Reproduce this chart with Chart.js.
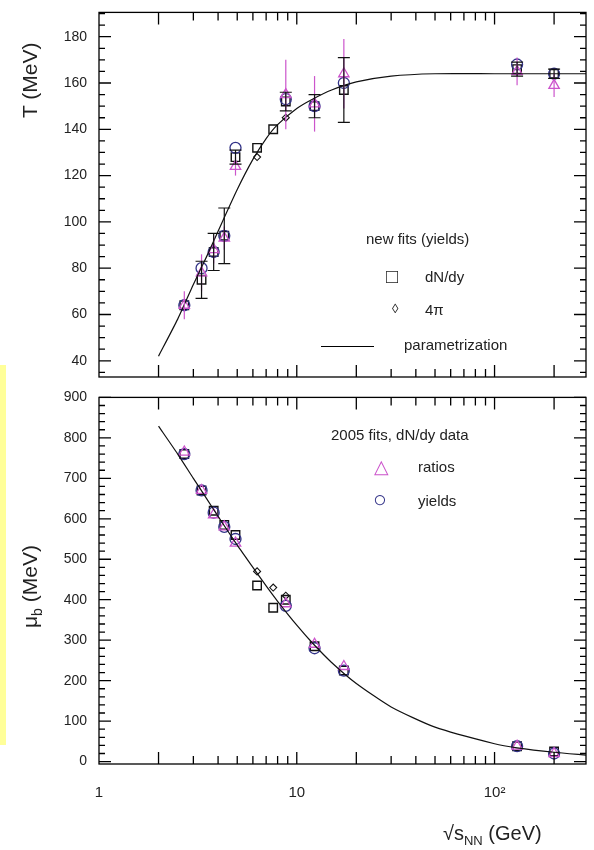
<!DOCTYPE html>
<html><head><meta charset="utf-8">
<script src="https://cdn.jsdelivr.net/npm/chart.js@4"></script>
<style>
body{margin:0;background:#fff;width:594px;height:850px;position:relative;overflow:hidden;font-family:"Liberation Sans",Arial,sans-serif;color:#222}
canvas{position:absolute;left:0}
.t{position:absolute;white-space:nowrap;font-size:15px}
.yl{position:absolute;font-size:21px;transform:rotate(-90deg);transform-origin:left top;white-space:nowrap}
</style></head><body>
<div style="position:absolute;left:0;top:365px;width:6px;height:380px;background:#ffff99"></div>
<canvas id="top" width="594" height="395" style="top:0"></canvas>
<canvas id="bot" width="594" height="465" style="top:385px"></canvas>
<div class="yl" style="left:18px;top:118px">T (MeV)</div>
<div class="yl" style="left:18px;top:628px">μ<sub style="font-size:14px">b</sub> (MeV)</div>
<div class="t" style="left:443px;top:822px;font-size:20px">√s<sub style="font-size:13px">NN</sub> (GeV)</div>
<div class="t" style="left:366px;top:230px">new fits (yields)</div>
<div class="t" style="left:386px;top:265px;font-size:20px">□</div><div class="t" style="left:425px;top:268px">dN/dy</div>
<div class="t" style="left:392px;top:301px;font-size:13px">◊</div><div class="t" style="left:425px;top:301px">4π</div>
<div style="position:absolute;left:321px;top:346px;width:53px;border-top:1.5px solid #000"></div><div class="t" style="left:404px;top:336px">parametrization</div>
<div class="t" style="left:331px;top:426px">2005 fits, dN/dy data</div>
<div class="t" style="left:374px;top:455px;font-size:19px;color:#cc55cc">△</div><div class="t" style="left:418px;top:458px">ratios</div>
<div class="t" style="left:373px;top:486px;font-size:23px;color:#333388">○</div><div class="t" style="left:418px;top:492px">yields</div>
<script>
// energies (GeV)
const sqrtS = [2.7, 3.3, 3.8, 4.3, 4.9, 6.3, 7.6, 8.8, 12.3, 17.3, 130, 200];
// temperature panel
const T_dndy  = [64, 75, 87, 94, 128, 132, 140, 152, 150, 157, 166, 164];
const T_dndy_err = [0, 8, 8, 12, 3, 0, 0, 4, 5, 14, 3, 2];
const T_4pi_x = [6.3, 8.8];
const T_4pi   = [128, 145];
const T_ratios_x = [2.7, 3.3, 3.8, 4.3, 4.9, 8.8, 12.3, 17.3, 130, 200];
const T_ratios = [64, 78, 88, 93, 124, 155, 151, 164, 165, 159];
const T_ratios_err = [6, 8, 6, 5, 4, 15, 12, 15, 6, 5];
const T_yields = [64, 80, 87, 94, 132, 153, 150, 160, 168, 164];
const curveX = [2, 2.5, 3, 3.5, 4, 5, 6, 7, 8, 10, 12, 15, 20, 30, 50, 100, 130, 200, 290];
const T_curve = [42, 58, 73, 85, 96, 114, 127, 136, 142, 149, 153, 157, 160.5, 163, 164, 164, 164, 164, 164];
// mu_b panel
const mu_dndy = [760, 670, 620, 585, 560, 435, 380, 400, 285, 225, 38, 25];
const mu_4pi_x = [6.3, 7.6, 8.8];
const mu_4pi = [470, 430, 410];
const mu_ratios = [765, 670, 610, 580, 540, 390, 290, 235, 38, 20];
const mu_yields = [760, 670, 615, 580, 550, 385, 280, 225, 38, 20];
const mu_curve = [829, 760, 700, 650, 606, 535, 480, 434, 396, 337, 293, 245, 193, 135, 85, 44, 34, 23, 16];

const pts = (xs, ys) => ys.map((y, i) => ({x: xs[i], y}));
const black = '#111', mag = '#cc55cc', navy = '#333388';

const errBars = {
  id: 'errBars',
  afterDatasetsDraw(c) {
    const ctx = c.ctx, xs = c.scales.x, ys = c.scales.y;
    c.data.datasets.forEach(d => {
      if (!d.err) return;
      ctx.save(); ctx.strokeStyle = d.borderColor; ctx.lineWidth = 1.2;
      d.data.forEach((p, i) => {
        const e = d.err[i]; if (!e) return;
        const px = xs.getPixelForValue(p.x);
        ctx.beginPath();
        ctx.moveTo(px, ys.getPixelForValue(p.y - e)); ctx.lineTo(px, ys.getPixelForValue(p.y + e));
        if (d.cap) {
          [p.y - e, p.y + e].forEach(v => { const py = ys.getPixelForValue(v); ctx.moveTo(px - 6, py); ctx.lineTo(px + 6, py); });
        }
        ctx.stroke();
      });
      ctx.restore();
    });
  }
};

const frameTicks = {
  id: 'frameTicks',
  afterDraw(c) {
    const ctx = c.ctx, a = c.chartArea, xs = c.scales.x, ys = c.scales.y, o = c.options.plugins.frameTicks;
    ctx.save(); ctx.strokeStyle = '#000'; ctx.lineWidth = 1.3;
    ctx.strokeRect(a.left, a.top, a.right - a.left, a.bottom - a.top);
    ctx.beginPath();
    for (let v = o.ymin; v <= o.ymax + 1e-6; v += o.minor) {
      const py = ys.getPixelForValue(v); if (py < a.top || py > a.bottom) continue;
      const L = Math.abs(v % o.major) < 1e-6 ? 12 : 6;
      ctx.moveTo(a.left, py); ctx.lineTo(a.left + L, py);
      ctx.moveTo(a.right, py); ctx.lineTo(a.right - L, py);
    }
    for (let dec = 1; dec <= 100; dec *= 10) {
      for (let k = 1; k <= 9; k++) {
        const v = dec * k; if (v > xs.max) break;
        const px = xs.getPixelForValue(v); if (px <= a.left + 1) continue;
        const L = (k === 1 || k === 2 || dec === 100) ? 12 : 8;
        ctx.moveTo(px, a.top); ctx.lineTo(px, a.top + L);
        ctx.moveTo(px, a.bottom); ctx.lineTo(px, a.bottom - L);
      }
    }
    ctx.stroke(); ctx.restore();
  }
};

function makeChart(id, sets, yopt, tickVals, xLabels, pad, fticks) {
  new Chart(document.getElementById(id), {
    type: 'scatter',
    data: {datasets: sets},
    options: {
      responsive: false, animation: false,
      layout: {padding: pad},
      plugins: {legend: {display: false}, tooltip: {enabled: false}, frameTicks: fticks},
      scales: {
        x: {type: 'logarithmic', min: 1, max: 290, border: {display: false}, grid: {display: false},
            ticks: {display: xLabels, color: '#222', font: {size: 15, family: 'Liberation Sans'}, padding: 12,
                    callback: v => v === 1 ? '1' : v === 10 ? '10' : v === 100 ? '10²' : ''},
            afterBuildTicks: s => { s.ticks = [1, 10, 100].map(v => ({value: v})); }},
        y: Object.assign({border: {display: false}, grid: {display: false},
            ticks: {color: '#222', font: {size: 14, family: 'Liberation Sans'}, padding: 4},
            afterBuildTicks: s => { s.ticks = tickVals.map(v => ({value: v})); },
            afterFit: s => { s.width = 99; }}, yopt)
      }
    },
    plugins: [errBars, frameTicks]
  });
}

const sq = (data, err) => ({data, err, cap: true, pointStyle: 'rect', radius: 6, borderColor: black, backgroundColor: 'transparent', borderWidth: 1.4});
const tri = (data, err) => ({data, err, pointStyle: 'triangle', radius: 6, borderColor: mag, backgroundColor: 'transparent', borderWidth: 1.3});
const circ = data => ({data, pointStyle: 'circle', radius: 5.5, borderColor: navy, backgroundColor: 'transparent', borderWidth: 1.3});
const dia = data => ({data, pointStyle: 'rectRot', radius: 3.5, borderColor: black, backgroundColor: 'transparent', borderWidth: 1.1});
const line = data => ({type: 'line', data, showLine: true, borderColor: black, borderWidth: 1.2, pointRadius: 0, tension: 0.2});

makeChart('top', [
  line(pts(curveX, T_curve)),
  tri(pts(T_ratios_x, T_ratios), T_ratios_err),
  circ(pts(T_ratios_x, T_yields)),
  sq(pts(sqrtS, T_dndy), T_dndy_err),
  dia(pts(T_4pi_x, T_4pi))
], {min: 33, max: 190.5}, [40, 60, 80, 100, 120, 140, 160, 180], false,
  {left: 0, right: 8, top: 10, bottom: 10}, {ymin: 35, ymax: 190, minor: 5, major: 20});

makeChart('bot', [
  line(pts(curveX, mu_curve)),
  tri(pts(T_ratios_x, mu_ratios)),
  circ(pts(T_ratios_x, mu_yields)),
  sq(pts(sqrtS, mu_dndy)),
  dia(pts(mu_4pi_x, mu_4pi))
], {min: -6, max: 900}, [0, 100, 200, 300, 400, 500, 600, 700, 800, 900], true,
  {left: 0, right: 8, top: 0, bottom: 36}, {ymin: 0, ymax: 900, minor: 20, major: 100});
</script>
</body></html>
